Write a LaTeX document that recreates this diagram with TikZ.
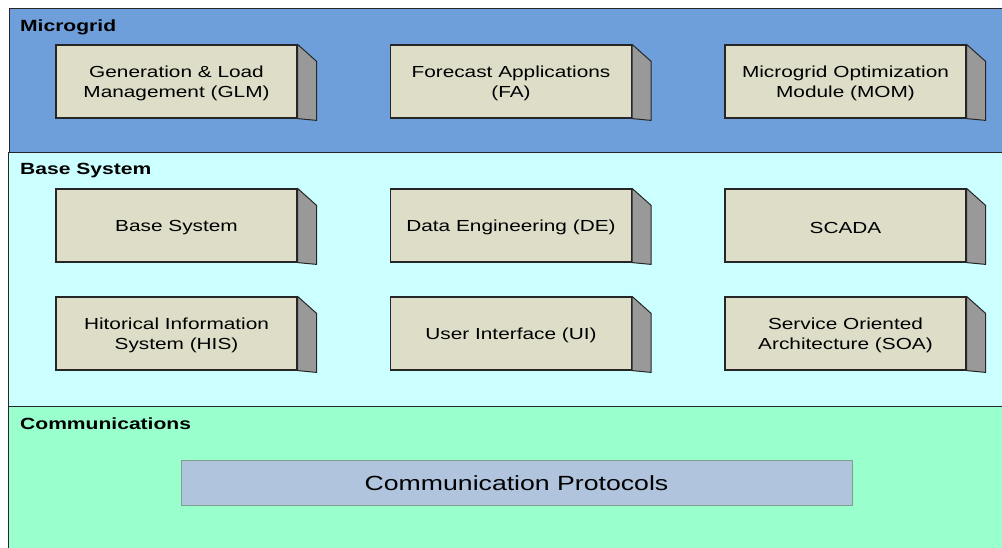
\documentclass[tikz,border=0pt]{standalone}
\usepackage{fontspec}
\setmainfont[FakeStretch=1.3]{Liberation Sans}
\definecolor{bandA}{HTML}{6F9FDB}
\definecolor{bandB}{HTML}{CCFFFF}
\definecolor{bandC}{HTML}{99FFCC}
\definecolor{faceC}{HTML}{DDDDC8}
\definecolor{sideC}{HTML}{999999}
\definecolor{commC}{HTML}{B0C4DE}
\definecolor{commB}{HTML}{7F9F8F}
\begin{document}
\begin{tikzpicture}[x=1pt,y=-1pt,
  band/.style={draw=black!85,line width=1pt},
  bandlabel/.style={anchor=west,inner sep=0pt,font=\fontsize{16.2}{19}\selectfont\bfseries},
  modbox/.style={draw=black!85,line width=1.2pt,fill=faceC,minimum width=241pt,minimum height=73pt,
    inner sep=0pt},
  modtext/.style={inner sep=0pt,align=center,font=\fontsize{16}{19.5}\selectfont},
  sidef/.style={draw=black!85,line width=1pt,fill=sideC,line join=round},
  commbox/.style={draw=commB,line width=1pt,fill=commC,minimum width=671pt,minimum height=45pt,
    inner sep=0pt},
  commtext/.style={inner sep=0pt,font=\fontsize{20.5}{24}\selectfont}]
\useasboundingbox (0,0) rectangle (1002,548);
\begin{scope}
\clip (0,0) rectangle (1002,548);
% bands
\path[band,fill=bandA] (9,9) rectangle (1010,153);
\path[band,fill=bandB] (8,153) rectangle (1010,406);
\path[band,fill=bandC] (8,406) rectangle (1010,556);
\end{scope}
\node[bandlabel] (lm) at (20,27.5) {Microgrid};
\node[bandlabel] (lb) at (20,171) {Base System};
\node[bandlabel] (lc) at (20,423.5) {Communications};
% module boxes
\foreach \n/\x/\y/\t in {glm/176.5/81.5/{Generation \& Load\\Management (GLM)},
  fa/511/81.5/{Forecast Applications\\(FA)},
  mom/845.5/81.5/{Microgrid Optimization\\Module (MOM)},
  bs/176.5/225.5/{Base System},
  de/511/225.5/{Data Engineering (DE)},
  sc/845.5/225.5/{SCADA},
  his/176.5/333.5/{Hitorical Information\\System (HIS)},
  ui/511/333.5/{User Interface (UI)},
  soa/845.5/333.5/{Service Oriented\\Architecture (SOA)}}{
  \node[modbox] (\n) at (\x,\y) {};
  \path[sidef] (\n.north east) -- ++(19,17) -- ++(0,59) -- (\n.south east) -- cycle;
  \node[modtext] (\n-t) at ([yshift=-2pt]\n.center) {\t};
}
\node[commbox] (cp) at (516.5,482.5) {};
\node[commtext] (cp-t) at ([yshift=-1pt]cp.center) {Communication Protocols};
\end{tikzpicture}
\end{document}
